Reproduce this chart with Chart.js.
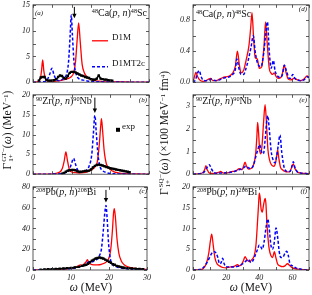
<!DOCTYPE html>
<html>
<head>
<meta charset="utf-8">
<script src="https://cdn.jsdelivr.net/npm/chart.js@4"></script>
<style>
  body { margin: 0; width: 312px; height: 295px; background: #fff; overflow: hidden; position: relative; font-family: "Liberation Serif", serif; }
  canvas { position: absolute; }
  .t { position: absolute; white-space: nowrap; line-height: 1; color: #111; }
  .t sup { font-size: 62%; vertical-align: 0; position: relative; top: -0.45em; }
  .t sub { font-size: 62%; vertical-align: 0; position: relative; top: 0.3em; }
  .lab { font-size: 10px; }
  .pid { font-size: 7px; font-style: italic; }
  .leg { font-size: 9px; }
  .ax { font-size: 11.5px; }
  .rot { transform: translate(-50%, -50%) rotate(-90deg); }
  .stk { display: inline-flex; flex-direction: column; font-size: 62%; vertical-align: middle; line-height: 1; margin-left: 1px; }
</style>
</head>
<body>
<canvas id="pa" width="141" height="93" style="left:13px;top:-3px"></canvas>
<canvas id="pb" width="141" height="95" style="left:13px;top:87px"></canvas>
<canvas id="pc" width="141" height="106" style="left:13px;top:179px"></canvas>
<canvas id="pd" width="139" height="93" style="left:173px;top:-3px"></canvas>
<canvas id="pe" width="139" height="95" style="left:173px;top:87px"></canvas>
<canvas id="pf" width="139" height="106" style="left:173px;top:179px"></canvas>

<div class="t pid" style="left:35px;top:10px">(a)</div>
<div class="t lab" style="right:165px;top:8px"><sup>48</sup>Ca(<i>p, n</i>)<sup>48</sup>Sc</div>
<div class="t leg" style="left:112px;top:33px">D1M</div>
<div class="t leg" style="left:112px;top:59px">D1MT2c</div>
<div class="t lab" style="left:36px;top:96px"><sup>90</sup>Zr(<i>p, n</i>)<sup>90</sup>Nb</div>
<div class="t pid" style="right:165px;top:97px">(b)</div>
<div class="t leg" style="left:122px;top:122px">exp</div>
<div class="t lab" style="left:36px;top:187px"><sup>208</sup>Pb(<i>p, n</i>)<sup>208</sup>Bi</div>
<div class="t pid" style="right:165px;top:188px">(c)</div>
<div class="t lab" style="left:196px;top:9px"><sup>48</sup>Ca(<i>p, n</i>)<sup>48</sup>Sc</div>
<div class="t pid" style="right:5px;top:6px">(d)</div>
<div class="t lab" style="left:196px;top:96px"><sup>90</sup>Zr(<i>p, n</i>)<sup>90</sup>Nb</div>
<div class="t pid" style="right:5px;top:97px">(e)</div>
<div class="t lab" style="left:197px;top:187px"><sup>208</sup>Pb(<i>p, n</i>)<sup>208</sup>Bi</div>
<div class="t pid" style="right:5px;top:188px">(f)</div>

<div class="t ax rot" style="left:8px;top:130px">Γ<span class="stk"><span>GT−</span><span>1+</span></span>(<i>ω</i>) (MeV<sup>−1</sup>)</div>
<div class="t ax rot" style="left:165px;top:133px">Γ<span class="stk"><span>SQ−</span><span>1+</span></span>(<i>ω</i>) (×100 MeV<sup>−1</sup> fm<sup>4</sup>)</div>
<div class="t ax" style="left:91px;top:288px;transform:translate(-50%,-50%)"><i>ω</i> (MeV)</div>
<div class="t ax" style="left:251px;top:288px;transform:translate(-50%,-50%)"><i>ω</i> (MeV)</div>

<script>
// ---- data: omega (MeV) and strength ----
// (a) 48Ca GT
const caGT_D1M_w = [0,1,1.8,2.2,2.5,2.8,3.3,4,5,6,7,8,9,9.8,10.5,11,11.4,11.8,12.2,12.7,13.3,14,15,16,17,18,20,22,24,26,28,30];
const caGT_D1M   = [0,0.05,0.4,2.2,4.3,2.2,0.5,0.2,0.15,0.2,0.3,0.5,0.7,1.0,1.8,4,8,11.5,8,3.5,1.8,1.0,0.5,0.3,0.2,0.12,0.06,0.1,0.04,0.02,0.01,0];
const caGT_T2c_w = [0,2,3.5,4.3,4.9,5.4,6,7,8,8.7,9.2,9.6,9.9,10.2,10.6,11,11.5,12,13,14,16,18,20,25,30];
const caGT_T2c   = [0,0.05,0.3,1.5,2.7,1.5,0.5,0.3,0.8,1.6,4,9,13,9,4,2,1.0,0.6,0.4,0.25,0.12,0.06,0.03,0.01,0];
const caGT_exp_w = [1.5,2,2.5,3,3.5,4,4.5,5,5.5,6,6.5,7,7.5,8,8.5,9,9.5,10,10.5,11,11.5,12,12.5,13,13.5,14,14.5,15,15.5,16,16.5,17,17.5,18,18.5,19,19.5,20,20.5];
const caGT_exp   = [0.3,0.9,1.0,1.0,0.4,0.3,0.3,0.3,0.4,0.6,1.0,1.3,1.2,0.8,0.7,1.2,1.8,2.0,2.0,1.9,1.7,1.5,1.3,1.2,1.0,0.9,0.8,0.6,0.5,0.5,0.7,1.3,0.7,0.6,0.5,0.5,0.4,0.3,0.3];

// (b) 90Zr GT
const zrGT_D1M_w = [0,4,6,7,7.6,8.1,8.5,8.9,9.4,10,11,12,13,14,15,16,16.6,17.1,17.5,17.7,18,18.4,19,20,21,22,24,27,30];
const zrGT_D1M   = [0,0.02,0.2,0.6,1.5,3.5,5.6,3.5,1.2,0.6,0.4,0.3,0.4,0.6,1.0,1.8,3,7,12,14,11,6,2.5,1.2,0.6,0.35,0.15,0.05,0.02];
const zrGT_T2c_w = [0,5,7,8.5,9.3,9.9,10.5,11,11.6,12.5,13.5,14.5,15.2,15.6,16,16.4,16.8,17.3,18,19,20,22,25,30];
const zrGT_T2c   = [0,0.02,0.1,0.4,1.0,2.5,4.0,2.5,1.0,0.6,0.8,2,5,10,14.8,10,5,2,0.9,0.4,0.2,0.08,0.03,0];
const zrGT_exp_w = [7.5,8,8.5,9,9.5,10,10.5,11,11.5,12,12.5,13,13.5,14,14.5,15,15.5,16,16.5,17,17.5,18,18.5,19,19.5,20,20.5,21,21.5,22,22.5,23,23.5,24,24.5,25];
const zrGT_exp   = [0.1,0.3,0.6,0.9,1.0,1.1,1.1,1.0,0.7,0.6,0.6,0.7,0.8,0.8,0.9,1.2,1.7,2.1,2.3,2.4,2.3,2.2,2.0,1.8,1.7,1.5,1.4,1.3,1.2,1.1,1.0,0.9,0.8,0.7,0.6,0.5];

// (c) 208Pb GT
const pbGT_D1M_w = [0,4,6,8,10,11,12,12.5,13,13.5,14,14.3,14.7,15.2,16,17,18,19,19.8,20.4,20.9,21.2,21.4,21.7,22.1,22.6,23.2,24,25,26,28,30];
const pbGT_D1M   = [0,0.1,0.3,0.8,1.5,2.5,4,5,4.5,6,8,10,7,5.5,5,5,5.5,7,10,18,38,55,59,50,30,16,9,5,3,2,1,0.5];
const pbGT_T2c_w = [0,4,6,8,10,11,12,13,13.5,14,14.5,15,15.5,16,16.8,17.5,18,18.5,18.9,19.2,19.5,19.9,20.4,21,22,23,25,30];
const pbGT_T2c   = [0,0.3,0.6,1,1.5,2,3,4,5,6,7.5,8,8,8.5,10,14,20,38,55,62,50,25,10,5,3,2,1,0.3];
const pbGT_exp_w = [2,3,4,5,6,7,8,9,10,11,12,13,13.5,14,14.5,15,15.5,16,16.5,17,17.5,18,18.5,19,19.5,20,20.5,21,21.5,22,22.5,23,23.5,24,25,26,27,28,29];
const pbGT_exp   = [0.3,0.5,0.7,0.8,1,1.2,1.5,1.8,2,2.5,3,4,4.5,5,6,7.5,9,10,11,11.5,12,11.5,11,10,9,8,7,5.5,5,4,3.5,3,2.5,2.2,1.8,1.5,1.2,1,0.8];

// (d) 48Ca SQ
const caSQ_D1M_w = [0,1,1.8,2.6,4,6,8,9.5,10.7,12,14,16,18,20,22,24,25.5,26.8,28,29,30.5,32,33.8,34.8,35.6,36.5,37.5,38.8,40,41.5,42.8,43.8,44.8,46,47,48,49,50,51.5,53,54,55.1,56.2,57.5,59,61,63,65,67,68.8,70];
const caSQ_D1M   = [0,0.08,0.13,0.08,0.03,0.01,0.02,0.04,0.05,0.02,0.02,0.04,0.06,0.07,0.08,0.12,0.2,0.4,0.22,0.12,0.15,0.28,0.48,0.7,0.9,0.6,0.32,0.3,0.18,0.2,0.45,0.78,0.5,0.18,0.12,0.1,0.12,0.08,0.05,0.06,0.12,0.22,0.12,0.04,0.03,0.05,0.03,0.02,0.04,0.08,0.06];
const caSQ_T2c_w = [0,1.5,2.8,3.8,4.8,6,8,10,11,12,14,16,18,20,22,24,25.5,26.5,27.7,29,30.5,32,33.5,35,36.4,37.5,38.5,39.5,41,42.5,43.8,44.9,46,47.2,48.5,49.5,51,52.5,54,55.1,56.5,58,59,60.2,61.5,63,65,67,69,70];
const caSQ_T2c   = [0,0.03,0.12,0.15,0.08,0.03,0.02,0.03,0.04,0.03,0.02,0.03,0.05,0.06,0.07,0.1,0.16,0.3,0.18,0.1,0.1,0.18,0.3,0.45,0.6,0.4,0.28,0.22,0.2,0.35,0.6,0.78,0.4,0.18,0.28,0.15,0.08,0.06,0.1,0.22,0.14,0.05,0.05,0.1,0.05,0.03,0.02,0.03,0.07,0.06];

// (e) 90Zr SQ
const zrSQ_D1M_w = [0,4,6,7,7.8,8.6,10,12,14,15.5,16.7,18,20,22,24,26,27.9,29.5,30.5,31.4,32.3,33.5,35,36.5,37.8,38.5,39,39.6,40.3,41,41.8,42.6,43.5,44.3,45.2,46.3,47.5,48.8,49.8,50.5,51.1,51.8,52.8,54,55.5,57,58.5,59.5,60.5,61.5,63,65,68,70];
const zrSQ_D1M   = [0,0.02,0.08,0.2,0.38,0.2,0.05,0.03,0.05,0.08,0.12,0.06,0.05,0.08,0.12,0.15,0.25,0.2,0.35,0.53,0.35,0.22,0.25,0.4,0.9,1.6,2.28,1.8,1.0,0.9,1.4,2.3,3.07,2.3,1.1,0.6,0.4,0.35,0.5,0.8,1.07,0.7,0.3,0.2,0.12,0.1,0.12,0.3,0.45,0.25,0.1,0.05,0.03,0.02];
const zrSQ_T2c_w = [0,5,7,8.5,9.9,11,12.5,14,16,18,20,22,24,26,28,30,32,33.5,35,36.5,38,39.2,40.2,41.3,42.5,43.5,44.3,45.1,46,47.2,48.5,49.5,50.5,51.5,52.5,53.5,55,57,58.5,59.5,60.5,61.5,63,65,68,70];
const zrSQ_T2c   = [0,0.03,0.12,0.3,0.42,0.25,0.08,0.04,0.05,0.05,0.06,0.08,0.1,0.15,0.2,0.25,0.35,0.28,0.25,0.4,0.8,1.1,1.3,1.0,0.9,1.5,2.2,2.58,2.0,1.0,0.6,0.5,0.8,1.3,1.73,1.0,0.3,0.12,0.12,0.3,0.55,0.3,0.1,0.05,0.03,0.02];

// (f) 208Pb SQ
const pbSQ_D1M_w = [0,4,6,8,9.5,10.5,11.3,12.2,13.2,14.5,16,18,20,22,24,25.5,26.8,28,29.5,30.5,31.4,32.5,34,35.5,37,38,39,39.6,40,40.5,41,41.8,42.5,43,43.5,44,44.5,45.2,46,47,48,49.1,50,51,52.5,54,55.5,57,58.5,60,62,64,66,68,70];
const pbSQ_D1M   = [0,0.05,0.3,1.5,4,7,8.6,6,3,1.5,1,0.6,0.5,0.7,0.8,1.0,1.3,1.0,1.5,2.3,3.2,2.5,2.0,2.5,3.5,6,12,16,18.5,17.5,15,13.9,15.5,16.5,17.2,16,12,8,5,3.5,3,4.4,3,1.5,1,0.8,1,1.5,1,0.5,0.3,0.2,0.1,0.05,0.02];
const pbSQ_T2c_w = [0,4,6,8,10,11,12,13,14,15,16,17,17.9,18.8,20,22,24,26,28,30,31.5,33.4,35,36.5,38,39,40,41,41.8,43,44,45.1,46,47,48,49,50.1,51.2,52,53,54,55.5,56.5,57.5,58.5,60,62,64,66,68,70];
const pbSQ_T2c   = [0,0.1,0.5,1.5,3,3.8,4.3,4.4,4,3,1.5,1.8,2.8,1.5,0.8,0.7,0.7,0.8,1,1.5,2,2.5,1.8,2.5,4,5,6,5.5,5,7,10,12.3,10,6,5,6.5,10.1,7.5,4.5,3,3,4,4.5,3.5,1.5,1,0.5,0.3,0.1,0.02,0];

// centroid arrows (omega, from, to)
const arrowA = [10.7, 14.6, 12.4];
const arrowB = [16.0, 19.3, 15.4];
const arrowC = [19.2, 77, 65];

const RED = "#ff0000", BLUE = "#0000ff";
const tickFont = { family: "Liberation Serif", size: 8, style: "italic" };

function pts(xs, ys) { return xs.map((x, i) => ({ x: x, y: ys[i] })); }

function near(v, step) { return Math.abs(v / step - Math.round(v / step)) < 1e-6; }

const framePlugin = {
  id: "frame",
  afterDraw(chart, args, opts) {
    const { ctx, chartArea: a } = chart;
    const x = chart.scales.x, y = chart.scales.y;
    ctx.save();
    ctx.strokeStyle = "#333";
    ctx.lineWidth = 0.8;
    ctx.strokeRect(a.left, a.top, a.right - a.left, a.bottom - a.top);
    ctx.beginPath();
    x.ticks.forEach(t => {
      const px = Math.round(x.getPixelForValue(t.value)) + 0.5;
      ctx.moveTo(px, a.bottom); ctx.lineTo(px, a.bottom - 3);
      ctx.moveTo(px, a.top); ctx.lineTo(px, a.top + 3);
    });
    y.ticks.forEach(t => {
      const py = Math.round(y.getPixelForValue(t.value)) + 0.5;
      ctx.moveTo(a.left, py); ctx.lineTo(a.left + 3, py);
      ctx.moveTo(a.right, py); ctx.lineTo(a.right - 3, py);
    });
    ctx.stroke();

    if (opts.arrow) {
      const px = x.getPixelForValue(opts.arrow[0]);
      const y0 = y.getPixelForValue(opts.arrow[1]);
      const y1 = y.getPixelForValue(opts.arrow[2]);
      ctx.strokeStyle = "#000";
      ctx.fillStyle = "#000";
      ctx.lineWidth = 1;
      ctx.beginPath(); ctx.moveTo(px, y0); ctx.lineTo(px, y1 - 3); ctx.stroke();
      ctx.beginPath(); ctx.moveTo(px - 2.2, y1 - 4.5); ctx.lineTo(px + 2.2, y1 - 4.5); ctx.lineTo(px, y1); ctx.closePath(); ctx.fill();
    }

    (opts.samples || []).forEach(s => {
      if (s.rect) {
        ctx.fillStyle = "#000";
        ctx.fillRect(a.left + s.dx - 2, a.top + s.dy - 2, 4, 4);
        return;
      }
      ctx.strokeStyle = s.color;
      ctx.lineWidth = s.width;
      ctx.setLineDash(s.dash || []);
      ctx.beginPath();
      ctx.moveTo(a.left + s.dx, a.top + s.dy);
      ctx.lineTo(a.left + s.dx + 16, a.top + s.dy);
      ctx.stroke();
      ctx.setLineDash([]);
    });
    ctx.restore();
  }
};

function lineSet(data, color, dashed) {
  return {
    data: data,
    borderColor: color,
    borderWidth: dashed ? 1.5 : 1.3,
    borderDash: dashed ? [3, 2] : [],
    pointRadius: 0,
    cubicInterpolationMode: "monotone",
    fill: false
  };
}

function expSet(data) {
  return {
    data: data,
    borderColor: "#000",
    backgroundColor: "#000",
    borderWidth: 1.6,
    pointStyle: "rect",
    pointRadius: 1.7,
    pointBorderWidth: 0,
    cubicInterpolationMode: "monotone",
    fill: false
  };
}

function panel(id, p) {
  new Chart(document.getElementById(id), {
    type: "line",
    data: { datasets: p.sets },
    options: {
      responsive: false,
      animation: false,
      devicePixelRatio: 1,
      layout: { padding: { top: 5, right: p.padRight, left: 0, bottom: 0 } },
      plugins: {
        legend: { display: false },
        tooltip: { enabled: false },
        frame: { arrow: p.arrow, samples: p.samples }
      },
      scales: {
        x: {
          type: "linear", min: 0, max: p.xmax,
          grid: { display: false, drawTicks: false },
          border: { display: false },
          afterFit: s => { s.height = p.xlabels ? 15 : 5; },
          ticks: {
            display: p.xlabels, stepSize: p.xstep, autoSkip: false, maxRotation: 0,
            padding: 3, color: "#222", font: tickFont,
            callback: v => near(v, p.xlabelStep) ? String(v) : ""
          }
        },
        y: {
          min: 0, max: p.ymax,
          grid: { display: false, drawTicks: false },
          border: { display: false },
          afterFit: s => { s.width = 20; },
          ticks: {
            stepSize: p.ystep, autoSkip: false, padding: 3, color: "#222", font: tickFont,
            callback: v => near(v, p.ylabelStep) ? (p.ydec ? v.toFixed(p.ydec) : String(v)) : ""
          }
        }
      }
    },
    plugins: [framePlugin]
  });
}

panel("pa", {
  xmax: 30, xstep: 5, xlabelStep: 10, xlabels: false, padRight: 5,
  ymax: 15, ystep: 2.5, ylabelStep: 5,
  arrow: arrowA,
  samples: [
    { dx: 59, dy: 36, color: RED, width: 1.3 },
    { dx: 59, dy: 62, color: BLUE, width: 1.5, dash: [3, 2] }
  ],
  sets: [
    expSet(pts(caGT_exp_w, caGT_exp)),
    lineSet(pts(caGT_T2c_w, caGT_T2c), BLUE, true),
    lineSet(pts(caGT_D1M_w, caGT_D1M), RED, false)
  ]
});

panel("pb", {
  xmax: 30, xstep: 5, xlabelStep: 10, xlabels: false, padRight: 5,
  ymax: 20, ystep: 2.5, ylabelStep: 5,
  arrow: arrowB,
  samples: [{ rect: true, dx: 85, dy: 35 }],
  sets: [
    expSet(pts(zrGT_exp_w, zrGT_exp)),
    lineSet(pts(zrGT_T2c_w, zrGT_T2c), BLUE, true),
    lineSet(pts(zrGT_D1M_w, zrGT_D1M), RED, false)
  ]
});

panel("pc", {
  xmax: 30, xstep: 5, xlabelStep: 10, xlabels: true, padRight: 5,
  ymax: 80, ystep: 10, ylabelStep: 20,
  arrow: arrowC,
  sets: [
    expSet(pts(pbGT_exp_w, pbGT_exp)),
    lineSet(pts(pbGT_T2c_w, pbGT_T2c), BLUE, true),
    lineSet(pts(pbGT_D1M_w, pbGT_D1M), RED, false)
  ]
});

panel("pd", {
  xmax: 70, xstep: 10, xlabelStep: 20, xlabels: false, padRight: 3,
  ymax: 1.0, ystep: 0.2, ylabelStep: 0.4, ydec: 1,
  sets: [
    lineSet(pts(caSQ_T2c_w, caSQ_T2c), BLUE, true),
    lineSet(pts(caSQ_D1M_w, caSQ_D1M), RED, false)
  ]
});

panel("pe", {
  xmax: 70, xstep: 10, xlabelStep: 20, xlabels: false, padRight: 3,
  ymax: 3.5, ystep: 0.5, ylabelStep: 1,
  sets: [
    lineSet(pts(zrSQ_T2c_w, zrSQ_T2c), BLUE, true),
    lineSet(pts(zrSQ_D1M_w, zrSQ_D1M), RED, false)
  ]
});

panel("pf", {
  xmax: 70, xstep: 10, xlabelStep: 20, xlabels: true, padRight: 3,
  ymax: 20, ystep: 2.5, ylabelStep: 5,
  sets: [
    lineSet(pts(pbSQ_T2c_w, pbSQ_T2c), BLUE, true),
    lineSet(pts(pbSQ_D1M_w, pbSQ_D1M), RED, false)
  ]
});
</script>
</body>
</html>
